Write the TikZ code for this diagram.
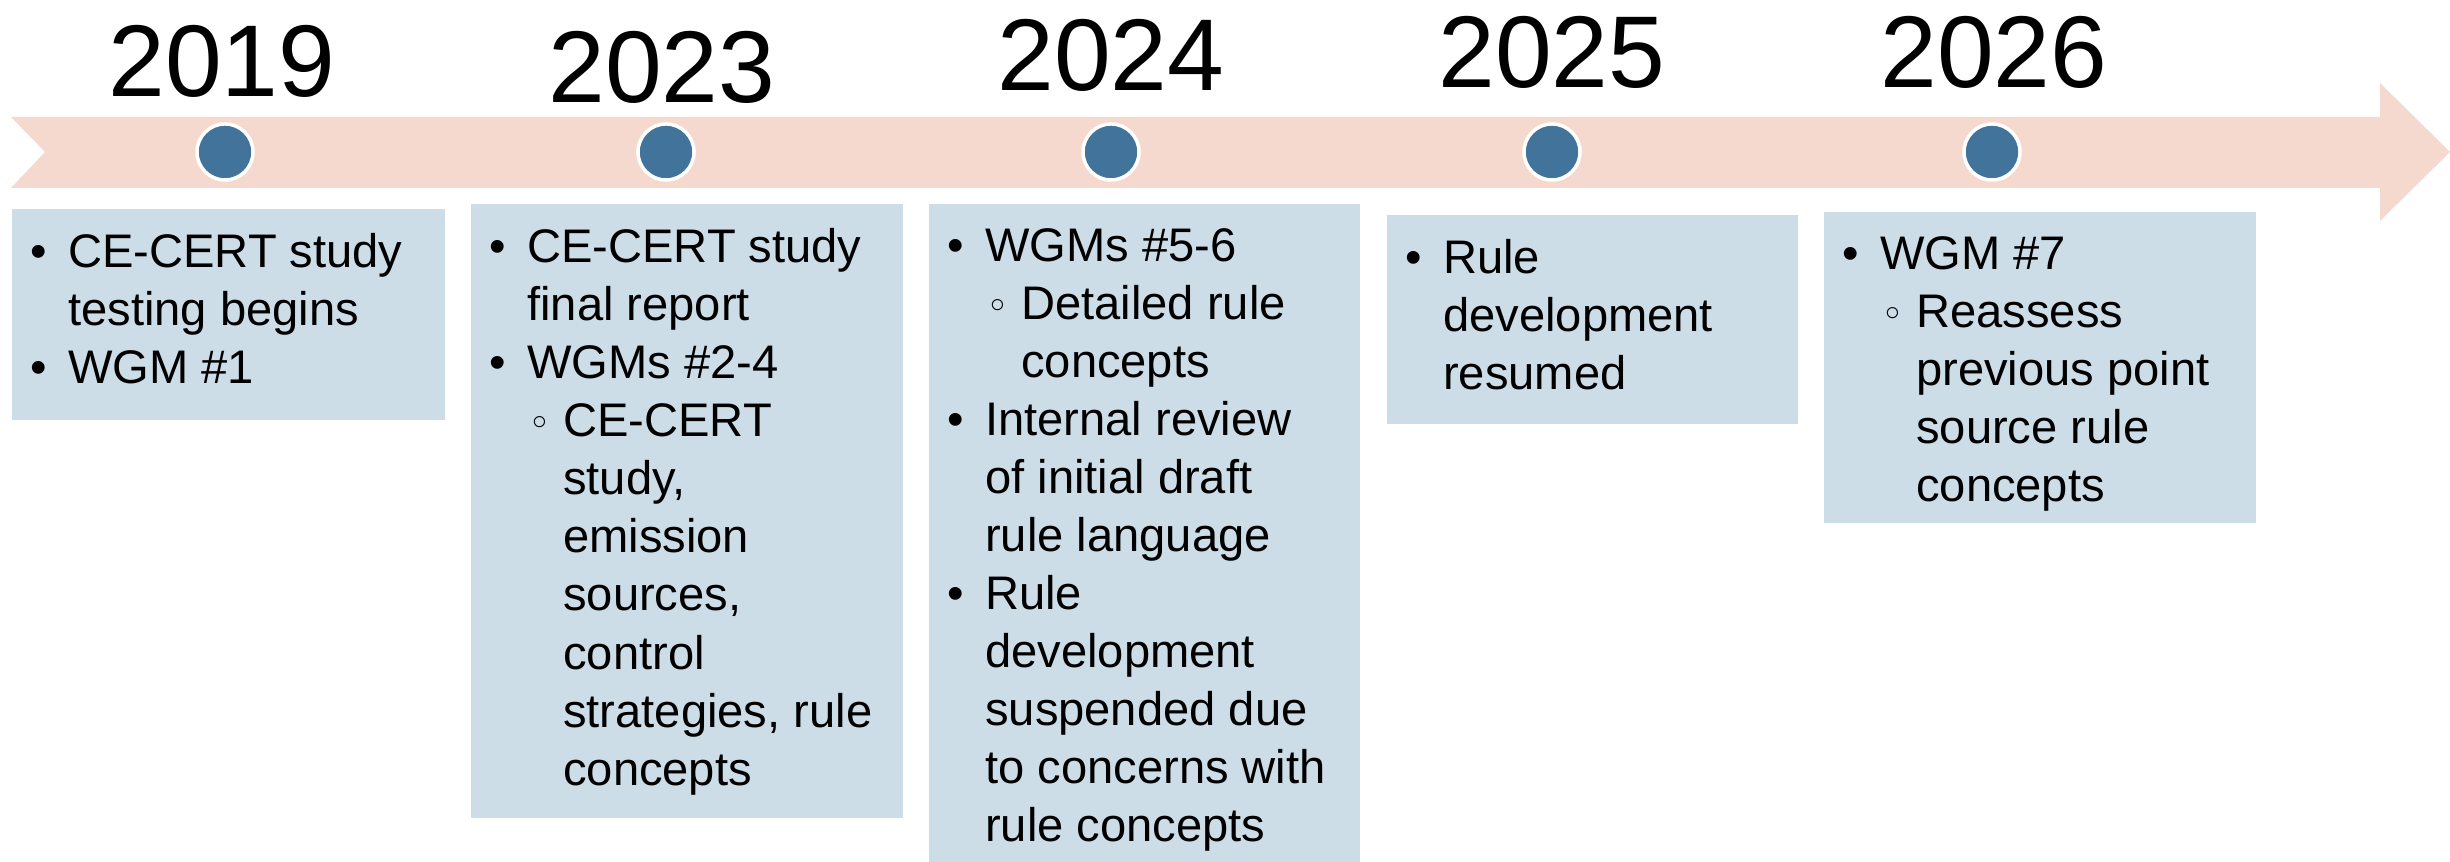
\documentclass[tikz,border=0pt]{standalone}
\usepackage{fontspec}
\setmainfont{Liberation Sans}
\newfontfamily\symfont{DejaVu Sans}
\usetikzlibrary{positioning}
\definecolor{bandcol}{RGB}{245,217,206}
\definecolor{dotcol}{RGB}{65,115,155}
\definecolor{boxcol}{RGB}{204,221,232}
\newcommand{\bl}{\makebox[3.75mm][l]{\textbullet}}
\newcommand{\ind}{\hspace*{3.75mm}}
\newcommand{\sbl}{\hspace*{3.85mm}\makebox[3.5mm][l]{{\symfont\fontsize{11}{11}\selectfont ◦}}}
\newcommand{\sind}{\hspace*{7.35mm}}

\begin{document}
\begin{tikzpicture}[x=0.01cm,y=-0.01cm,
    year/.style={anchor=base,inner sep=0,font=\fontsize{29}{34}\selectfont},
    dot/.style={circle,fill=dotcol,draw=white,line width=0.35mm,minimum size=5.6mm,inner sep=0},
    panel/.style={anchor=north west,fill=boxcol,inner sep=0},
    items/.style={below right=2.5mm and 1.9mm of #1.north west,inner sep=0,align=left,
      font=\fontsize{13.4}{16.5}\selectfont}]
                \useasboundingbox (0,0) rectangle (2450,862);

                % band with arrow head
                \fill[bandcol] (11,117) -- (2380,117) -- (2380,83) -- (2450,152)
                  -- (2380,221) -- (2380,188) -- (11,188) -- (45,152) -- cycle;

                \node[dot] (d2019) at (225,152) {};
                \node[dot] (d2023) at (666,152) {};
                \node[dot] (d2024) at (1111,152) {};
                \node[dot] (d2025) at (1552,152) {};
                \node[dot] (d2026) at (1992,152) {};

                \node[year] (y2019) at (222,97) {2019};
                \node[year] (y2023) at (662,103) {2023};
                \node[year] (y2024) at (1111,91) {2024};
                \node[year] (y2025) at (1552,88) {2025};
                \node[year] (y2026) at (1994,88) {2026};

                \node[panel,minimum width=4.33cm,minimum height=2.11cm] (b2019) at (11,208) {};
                \node[panel,minimum width=4.32cm,minimum height=6.14cm] (b2023) at (470,203) {};
                \node[panel,minimum width=4.31cm,minimum height=6.59cm] (b2024) at (928,203) {};
                \node[panel,minimum width=4.11cm,minimum height=2.09cm] (b2025) at (1386,214) {};
                \node[panel,minimum width=4.32cm,minimum height=3.11cm] (b2026) at (1823,211) {};

                \node[items=b2019] (t2019) {\bl CE-CERT study\\ \ind testing begins\\ \bl WGM \#1};
                \node[items=b2023] (t2023) {\bl CE-CERT study\\ \ind final report\\ \bl WGMs \#2-4\\
                  \sbl CE-CERT\\ \sind study,\\ \sind emission\\ \sind sources,\\ \sind control\\
                  \sind strategies, rule\\ \sind concepts};
                \node[items=b2024] (t2024) {\bl WGMs \#5-6\\ \sbl Detailed rule\\ \sind concepts\\
                  \bl Internal review\\ \ind of initial draft\\ \ind rule language\\ \bl Rule\\
                  \ind development\\ \ind suspended due\\ \ind to concerns with\\ \ind rule concepts};
                \node[items=b2025] (t2025) {\bl Rule\\ \ind development\\ \ind resumed};
                \node[items=b2026] (t2026) {\bl WGM \#7\\ \sbl Reassess\\ \sind previous point\\
                  \sind source rule\\ \sind concepts};
            \end{tikzpicture}
\end{document}
